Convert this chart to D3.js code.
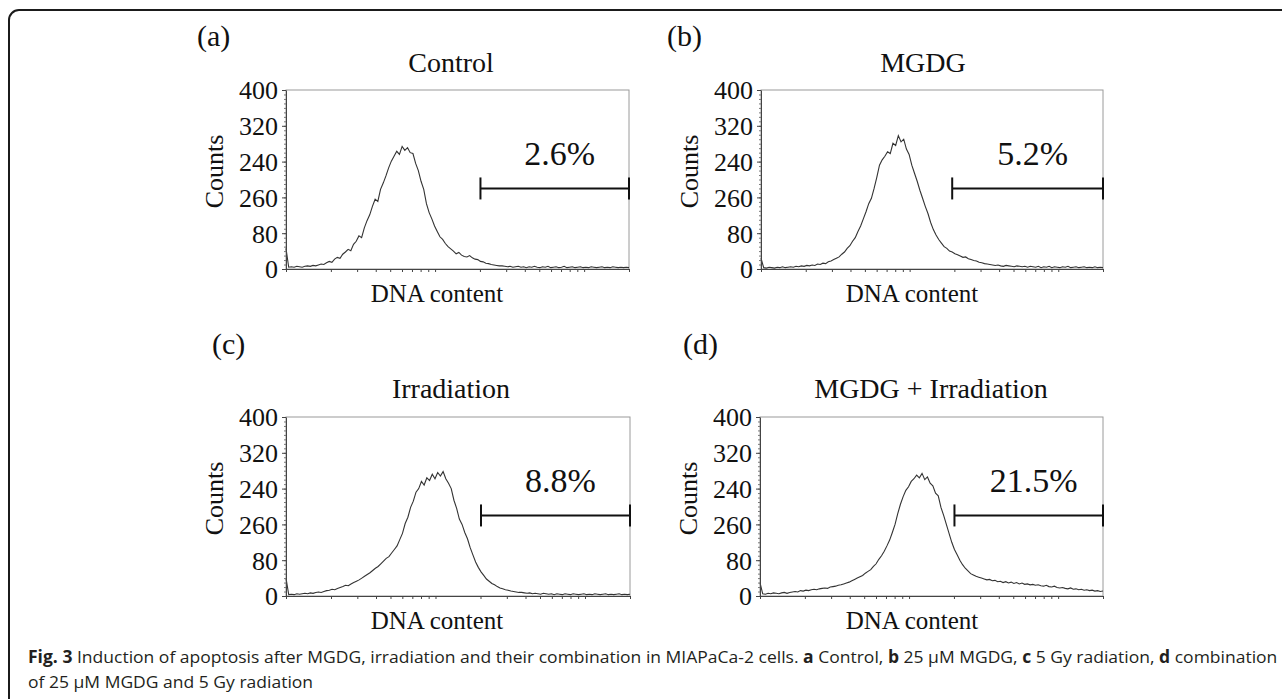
<!DOCTYPE html>
<html>
<head>
<meta charset="utf-8">
<script src="https://cdn.jsdelivr.net/npm/d3@7"></script>
<style>
  body { margin: 0; background: #fff; }
  svg { display: block; }
  .serif { font-family: "Liberation Serif", "Times New Roman", serif; fill: #111; }
  .caption { font-family: "Open Sans", sans-serif; font-size: 17px; fill: #231f20; }
</style>
</head>
<body>
<svg id="chart" width="1282" height="699"></svg>
<script>
// values
var panelLetters = ["(a)", "(b)", "(c)", "(d)"];
var panelTitles = ["Control", "MGDG", "Irradiation", "MGDG + Irradiation"];
var percentLabels = ["2.6%", "5.2%", "8.8%", "21.5%"];
var gateStart = [72, 71, 72, 72];
var gateEnd = [127, 127, 127, 127];
var gateLevel = 180;
var countTicks = [0, 80, 160, 240, 320, 400];
var countTickLabels = ["0", "80", "260", "240", "320", "400"];
var dnaDomain = [1, 200];

var controlCounts = [46,4,5,4,6,5,4,6,7,6,8,7,9,11,10,14,17,15,22,26,24,33,38,44,41,55,62,74,70,92,
  108,121,140,156,151,178,192,208,226,241,252,263,256,274,265,271,260,258,236,220,196,178,146,126,112,96,84,72,66,57,
  50,45,40,34,37,31,28,27,30,25,22,21,17,16,13,12,10,9,8,7,7,6,5,6,4,5,6,4,5,3,
  5,4,6,4,3,5,4,6,3,4,5,3,4,6,3,4,5,3,4,5,3,4,3,5,4,3,4,5,3,4,3,5,4,3,4,3,4,3];
var mgdgCounts = [24,3,2,4,3,2,4,3,5,3,4,5,4,6,5,7,6,8,7,9,8,11,10,13,12,16,18,21,24,27,
  33,38,46,52,62,70,84,96,112,128,146,158,180,205,232,244,252,262,258,281,276,298,284,290,268,256,232,214,196,176,
  158,140,124,104,88,76,66,58,50,46,40,38,34,32,29,26,27,23,21,19,18,15,14,12,11,10,9,8,9,7,
  6,8,7,6,5,7,6,5,6,4,6,5,4,6,3,5,4,6,3,5,4,3,5,4,6,3,4,5,3,4,5,3,4,3,5,3,4,3];
var irradCounts = [40,3,4,3,5,4,5,6,5,7,6,8,9,8,10,12,13,15,14,17,19,21,24,23,27,30,33,36,40,44,
  48,52,57,62,66,72,78,84,88,96,104,112,126,140,162,176,198,212,232,240,256,248,264,258,272,262,276,268,278,262,
  252,240,214,196,172,160,142,128,108,92,76,64,54,46,38,33,28,25,21,18,16,14,13,11,10,9,8,8,7,6,
  7,5,6,5,4,6,5,4,5,3,5,4,3,5,4,3,5,4,3,4,5,3,4,3,5,4,3,4,5,3,4,3,4,5,3,4,3,4];
var comboCounts = [30,5,4,6,5,7,6,5,7,8,6,8,9,10,9,12,11,13,12,14,15,14,16,17,18,17,20,21,22,24,
  25,27,29,31,34,37,40,43,46,51,55,59,66,72,82,90,100,112,125,142,160,184,205,222,236,244,256,262,270,264,
  274,260,266,252,246,230,224,198,180,160,140,120,104,92,80,70,62,56,50,47,44,42,40,38,36,37,34,35,32,33,
  30,32,29,31,28,30,27,29,26,27,25,26,24,25,23,22,24,21,20,22,19,18,19,17,16,18,15,16,14,15,13,14,12,13,11,12,10,11];

var panelCounts = [controlCounts, mgdgCounts, irradCounts, comboCounts];

// where each panel sits on the page
var layouts = [
  {left: 286, right: 629, top: 90, bottom: 269, letterX: 197, letterY: 46, titleX: 451, titleY: 72, dnaX: 437, dnaY: 302},
  {left: 761, right: 1103, top: 90, bottom: 269, letterX: 667, letterY: 46, titleX: 923, titleY: 72, dnaX: 912, dnaY: 302},
  {left: 286, right: 630, top: 417, bottom: 596, letterX: 212, letterY: 354, titleX: 451, titleY: 398, dnaX: 437, dnaY: 629},
  {left: 760, right: 1103, top: 417, bottom: 596, letterX: 683, letterY: 354, titleX: 931, titleY: 398, dnaX: 912, dnaY: 629}
];

var svg = d3.select("#chart");

// outer figure frame with rounded top-left corner
svg.append("path")
  .attr("d", "M9,699V20A10,10 0 0 1 19,10H1282")
  .attr("fill", "none")
  .attr("stroke", "#1b1b1b")
  .attr("stroke-width", 2);

function drawPanel(i) {
  var L = layouts[i];
  var counts = panelCounts[i];
  var g = svg.append("g");

  var x = d3.scaleLinear().domain([0, counts.length - 1]).range([L.left, L.right]);
  var xLog = d3.scaleLog().domain(dnaDomain).range([L.left, L.right]);
  var y = d3.scaleLinear().domain([0, 400]).range([L.bottom, L.top]);

  // top / right border
  g.append("rect")
    .attr("x", L.left).attr("y", L.top)
    .attr("width", L.right - L.left).attr("height", L.bottom - L.top)
    .attr("fill", "none").attr("stroke", "#9a9a9a").attr("stroke-width", 1);

  g.append("path")
    .datum(counts)
    .attr("fill", "none")
    .attr("stroke", "#333")
    .attr("stroke-width", 1.1)
    .attr("d", d3.line().x(function(d, k) { return x(k); }).y(function(d) { return y(d); }));

  // minor y ticks
  g.append("g")
    .attr("transform", "translate(" + L.left + ",0)")
    .call(d3.axisLeft(y).ticks(40).tickSize(2).tickFormat(""))
    .call(function(a) { a.select(".domain").remove(); a.selectAll("line").attr("stroke", "#777"); });

  var yAxis = g.append("g")
    .attr("transform", "translate(" + L.left + ",0)")
    .call(d3.axisLeft(y).tickValues(countTicks).tickSize(4).tickSizeOuter(0).tickPadding(4)
      .tickFormat(function(d, k) { return countTickLabels[k]; }));
  yAxis.select(".domain").attr("stroke", "#444");
  yAxis.selectAll("line").attr("stroke", "#444");
  yAxis.selectAll("text")
    .attr("class", "serif")
    .attr("font-size", 26)
    .attr("dy", "0.34em");

  var xAxis = g.append("g")
    .attr("transform", "translate(0," + L.bottom + ")")
    .call(d3.axisBottom(xLog).tickSize(3).tickSizeOuter(0).tickFormat(""));
  xAxis.select(".domain").attr("stroke", "#444");
  xAxis.selectAll("line").attr("stroke", "#444");

  // gate bracket
  var gy = y(gateLevel);
  var gx0 = x(gateStart[i]), gx1 = x(gateEnd[i]);
  var bracket = g.append("g").attr("stroke", "#111").attr("stroke-width", 2);
  bracket.append("line").attr("x1", gx0).attr("x2", gx1).attr("y1", gy).attr("y2", gy);
  bracket.append("line").attr("x1", gx0).attr("x2", gx0).attr("y1", gy - 11).attr("y2", gy + 11);
  bracket.append("line").attr("x1", gx1).attr("x2", gx1).attr("y1", gy - 11).attr("y2", gy + 11);

  g.append("text").attr("class", "serif")
    .attr("x", (gx0 + gx1) / 2 + 5).attr("y", gy - 23)
    .attr("text-anchor", "middle").attr("font-size", 34)
    .text(percentLabels[i]);

  g.append("text").attr("class", "serif")
    .attr("x", L.letterX).attr("y", L.letterY)
    .attr("font-size", 30)
    .text(panelLetters[i]);

  g.append("text").attr("class", "serif")
    .attr("x", L.titleX).attr("y", L.titleY)
    .attr("text-anchor", "middle").attr("font-size", 28)
    .text(panelTitles[i]);

  g.append("text").attr("class", "serif")
    .attr("transform", "translate(" + (L.left - 63) + "," + ((L.top + L.bottom) / 2 - 8) + ") rotate(-90)")
    .attr("text-anchor", "middle").attr("font-size", 26)
    .text("Counts");

  g.append("text").attr("class", "serif")
    .attr("x", L.dnaX).attr("y", L.dnaY)
    .attr("text-anchor", "middle").attr("font-size", 25)
    .text("DNA content");
}

for (var i = 0; i < 4; i++) drawPanel(i);

// caption
var cap = svg.append("g").attr("class", "caption");
var line1 = cap.append("text").attr("x", 0).attr("y", 663);
var parts = [
  ["Fig. 3", true], [" Induction of apoptosis after MGDG, irradiation and their combination in MIAPaCa-2 cells. ", false],
  ["a", true], [" Control, ", false], ["b", true], [" 25 µM MGDG, ", false],
  ["c", true], [" 5 Gy radiation, ", false], ["d", true], [" combination", false]
];
parts.forEach(function(p) {
  line1.append("tspan").attr("font-weight", p[1] ? 700 : 400).text(p[0]);
});
cap.append("text").attr("x", 0).attr("y", 688).text("of 25 µM MGDG and 5 Gy radiation");
var w = line1.node().getComputedTextLength();
cap.attr("transform", "translate(28,0) scale(" + (1250 / w) + ",1)");
</script>
</body>
</html>
